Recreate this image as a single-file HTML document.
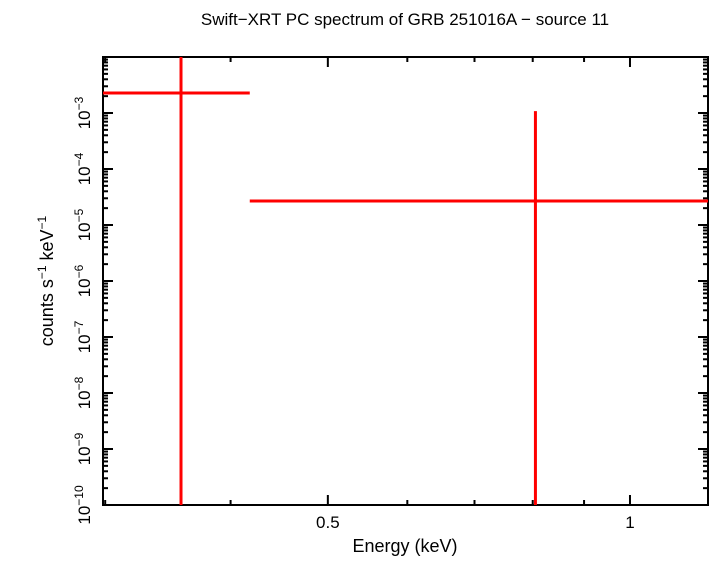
<!DOCTYPE html>
<html><head><meta charset="utf-8"><style>
body{margin:0;background:#fff}
svg text{font-family:"Liberation Sans",sans-serif;fill:#000}
</style></head><body>
<svg id="c" width="710" height="556" xmlns="http://www.w3.org/2000/svg">
<text x="405" y="25" font-size="17" text-anchor="middle">Swift−XRT PC spectrum of GRB 251016A − source 11</text>
<text x="405" y="552" font-size="18" text-anchor="middle">Energy (keV)</text>
<text transform="translate(53,281) rotate(-90)" font-size="18" text-anchor="middle">counts s<tspan dy="-7" font-size="12">−1</tspan><tspan dy="7"> keV</tspan><tspan dy="-7" font-size="12">−1</tspan></text>
<g id="ax"></g><g id="marks"></g>
</svg>
<script>
const xMajorTicks=[0.5,1];
const xMajorLabels=["0.5","1"];
const xMinorTicks=[0.3,0.4,0.6,0.7,0.8,0.9];
const yDecades=[-10,-9,-8,-7,-6,-5,-4,-3,-2];
const energy=[0.357,0.805];
const energyLo=[0.29,0.418];
const energyHi=[0.418,1.25];
const rate=[2.28e-3,2.68e-5];
const rateLo=[1e-12,1e-12];
const rateHi=[1,1.08e-3];
const L=103,R=708,T=57,B=505;
const xmin=0.2985,xmax=1.196,ymin=-10,ymax=-2;
const X=v=>L+(Math.log10(v)-Math.log10(xmin))/(Math.log10(xmax)-Math.log10(xmin))*(R-L);
const Y=v=>B-(Math.log10(v)-ymin)/(ymax-ymin)*(B-T);
const NS="http://www.w3.org/2000/svg";
const ax=document.getElementById('ax'),mk=document.getElementById('marks');
function ln(p,x1,y1,x2,y2,c,w){const e=document.createElementNS(NS,'line');e.setAttribute('x1',x1);e.setAttribute('y1',y1);e.setAttribute('x2',x2);e.setAttribute('y2',y2);e.setAttribute('stroke',c);e.setAttribute('stroke-width',w);p.appendChild(e);return e;}
const cl=v=>Math.max(T,Math.min(B,v)), cx=v=>Math.max(L,Math.min(R,v));
for(let i=0;i<energy.length;i++){
 const h=ln(mk,cx(X(energyLo[i])),Y(rate[i]),cx(X(energyHi[i])),Y(rate[i]),'#f00',3);
 
 
 const v=ln(mk,X(energy[i]),cl(Y(rateHi[i])),X(energy[i]),cl(Y(rateLo[i])),'#f00',3);
 
 
}
const fr=document.createElementNS(NS,'rect');
fr.setAttribute('x',L);fr.setAttribute('y',T);fr.setAttribute('width',R-L);fr.setAttribute('height',B-T);fr.setAttribute('fill','none');fr.setAttribute('stroke','#000');fr.setAttribute('stroke-width',2);


ax.appendChild(fr);
xMajorTicks.forEach((t,i)=>{const x=X(t);ln(ax,x,B,x,B-10,'#000',2);ln(ax,x,T,x,T+10,'#000',2);
 const tx=document.createElementNS(NS,'text');tx.setAttribute('x',x);tx.setAttribute('y',528);tx.setAttribute('font-size',17);tx.setAttribute('text-anchor','middle');tx.textContent=xMajorLabels[i];
 
 
 ax.appendChild(tx);});
xMinorTicks.forEach(t=>{const x=X(t);if(x<L||x>R)return;ln(ax,x,B,x,B-5,'#000',2);ln(ax,x,T,x,T+5,'#000',2);});
yDecades.forEach(d=>{const y=Y(Math.pow(10,d));ln(ax,L,y,L+10,y,'#000',2);ln(ax,R,y,R-10,y,'#000',2);
 if(d<ymax){for(let k=2;k<10;k++){const yy=Y(k*Math.pow(10,d));ln(ax,L,yy,L+5,yy,'#000',2);ln(ax,R,yy,R-5,yy,'#000',2);}
 const tx=document.createElementNS(NS,'text');tx.setAttribute('transform','translate(90,'+y+') rotate(-90)');tx.setAttribute('font-size',17);tx.setAttribute('text-anchor','middle');
 tx.innerHTML='10<tspan dy="-7" font-size="12">'+(d<0?'−':'')+Math.abs(d)+'</tspan>';
 
 
 ax.appendChild(tx);}});
</script>
</body></html>
